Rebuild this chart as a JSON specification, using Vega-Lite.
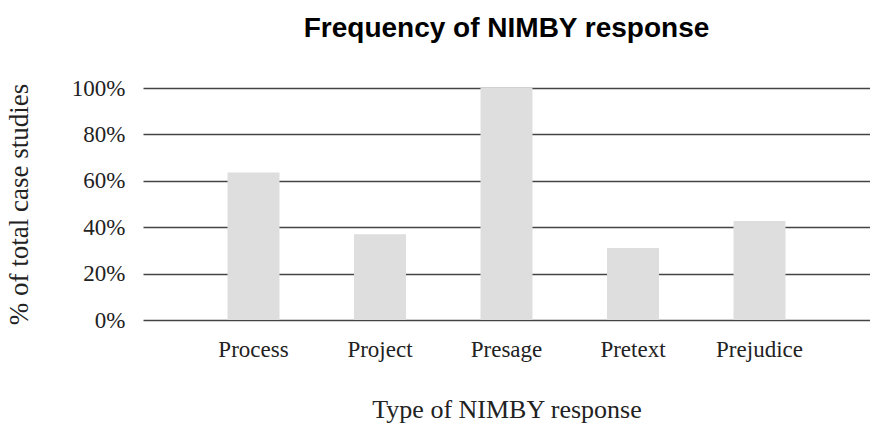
{
  "$schema": "https://vega.github.io/schema/vega-lite/v6.json",
  "width": 727,
  "height": 232,
  "autosize": {"type": "none"},
  "padding": {"left": 143, "top": 88, "right": 0, "bottom": 103},
  "background": "white",
  "title": {
    "text": "Frequency of NIMBY response",
    "font": "Liberation Sans",
    "fontSize": 28,
    "fontWeight": "bold",
    "color": "#000000",
    "anchor": "middle",
    "baseline": "alphabetic",
    "offset": 12
  },
  "data": {
    "values": [
      {"type": "Process", "share": 0.636},
      {"type": "Project", "share": 0.37},
      {"type": "Presage", "share": 1.0},
      {"type": "Pretext", "share": 0.31},
      {"type": "Prejudice", "share": 0.427}
    ]
  },
  "mark": {"type": "bar", "color": "#dedede"},
  "encoding": {
    "x": {
      "field": "type",
      "type": "nominal",
      "sort": null,
      "scale": {"paddingInner": 0.589, "paddingOuter": 0.668},
      "axis": {
        "title": "Type of NIMBY response",
        "labelAngle": 0,
        "labelFont": "Liberation Serif",
        "labelFontSize": 23,
        "labelColor": "#222222",
        "labelPadding": 18,
        "titleFont": "Liberation Serif",
        "titleFontSize": 26,
        "titleFontWeight": "normal",
        "titleColor": "#222222",
        "titlePadding": 35,
        "domain": false,
        "ticks": false
      }
    },
    "y": {
      "field": "share",
      "type": "quantitative",
      "scale": {"domain": [0, 1]},
      "axis": {
        "title": "% of total case studies",
        "format": ".0%",
        "values": [0, 0.2, 0.4, 0.6, 0.8, 1],
        "labelFont": "Liberation Serif",
        "labelFontSize": 23,
        "labelColor": "#222222",
        "labelPadding": 18,
        "titleFont": "Liberation Serif",
        "titleFontSize": 27,
        "titleFontWeight": "normal",
        "titleColor": "#222222",
        "titlePadding": 38,
        "domain": false,
        "ticks": false,
        "grid": true,
        "gridColor": "#444444",
        "gridWidth": 1.5,
        "gridOpacity": 1,
        "zindex": 0
      }
    }
  },
  "config": {"view": {"stroke": null}}
}
